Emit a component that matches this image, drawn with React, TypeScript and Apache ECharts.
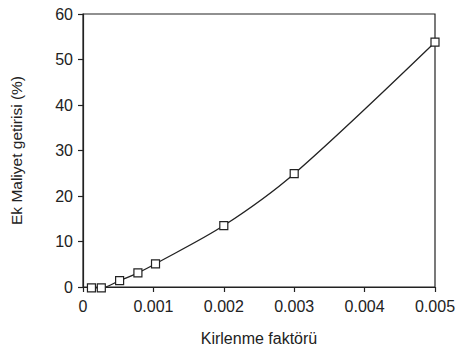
import React, { useEffect, useRef } from "react";
import * as echarts from "echarts";

const xValues = [0.00012, 0.00026, 0.00052, 0.00078, 0.00103, 0.002, 0.003, 0.005];
const yValues = [-0.2, -0.2, 1.4, 3.1, 5.1, 13.5, 24.9, 53.8];
const xTicks = [0, 0.001, 0.002, 0.003, 0.004, 0.005];
const yTicks = [0, 10, 20, 30, 40, 50, 60];

export default function App() {
  const ref = useRef<HTMLDivElement>(null);
  useEffect(() => {
    if (!ref.current) return;
    const chart = echarts.init(ref.current, null, { renderer: "svg" });
    const font = "'Liberation Sans', Arial, Helvetica, sans-serif";
    chart.setOption({
      animation: false,
      backgroundColor: "#fff",
      grid: {
        left: 82.5,
        right: 25,
        top: 14,
        bottom: 64,
        show: true,
        borderColor: "#222",
        borderWidth: 1.2,
        backgroundColor: "transparent",
      },
      xAxis: {
        type: "value",
        min: xTicks[0],
        max: xTicks[xTicks.length - 1],
        interval: 0.001,
        name: "Kirlenme faktörü",
        nameLocation: "middle",
        nameGap: 43,
        nameTextStyle: { fontFamily: font, fontSize: 16, color: "#222" },
        axisLine: { show: true, onZero: false, lineStyle: { color: "#222", width: 1.2 } },
        axisTick: { show: true, inside: false, length: 5, lineStyle: { color: "#222", width: 1.2 } },
        splitLine: { show: false },
        axisLabel: {
          fontFamily: font,
          fontSize: 16,
          color: "#222",
          margin: 11,
          formatter: (v: number) => (v === 0 ? "0" : v.toFixed(3)),
        },
      },
      yAxis: {
        type: "value",
        min: yTicks[0],
        max: yTicks[yTicks.length - 1],
        interval: 10,
        name: "Ek Maliyet getirisi (%)",
        nameLocation: "middle",
        nameGap: 59,
        nameRotate: 90,
        nameTextStyle: { fontFamily: font, fontSize: 15.5, color: "#222" },
        axisLine: { show: true, onZero: false, lineStyle: { color: "#222", width: 1.2 } },
        axisTick: { show: true, inside: false, length: 5, lineStyle: { color: "#222", width: 1.2 } },
        splitLine: { show: false },
        axisLabel: { fontFamily: font, fontSize: 16, color: "#222", margin: 10 },
      },
      series: [
        {
          type: "line",
          data: xValues.map((x, i) => [x, yValues[i]]),
          smooth: 0.3,
          symbol: "rect",
          symbolSize: 8,
          showAllSymbol: true,
          clip: false,
          lineStyle: { color: "#222", width: 1.3 },
          itemStyle: { color: "#fff", borderColor: "#222", borderWidth: 1.2 },
          z: 3,
        },
      ],
    });
    return () => chart.dispose();
  }, []);
  return <div ref={ref} style={{ width: 460, height: 351, position: "absolute", left: 0, top: 0 }} />;
}
